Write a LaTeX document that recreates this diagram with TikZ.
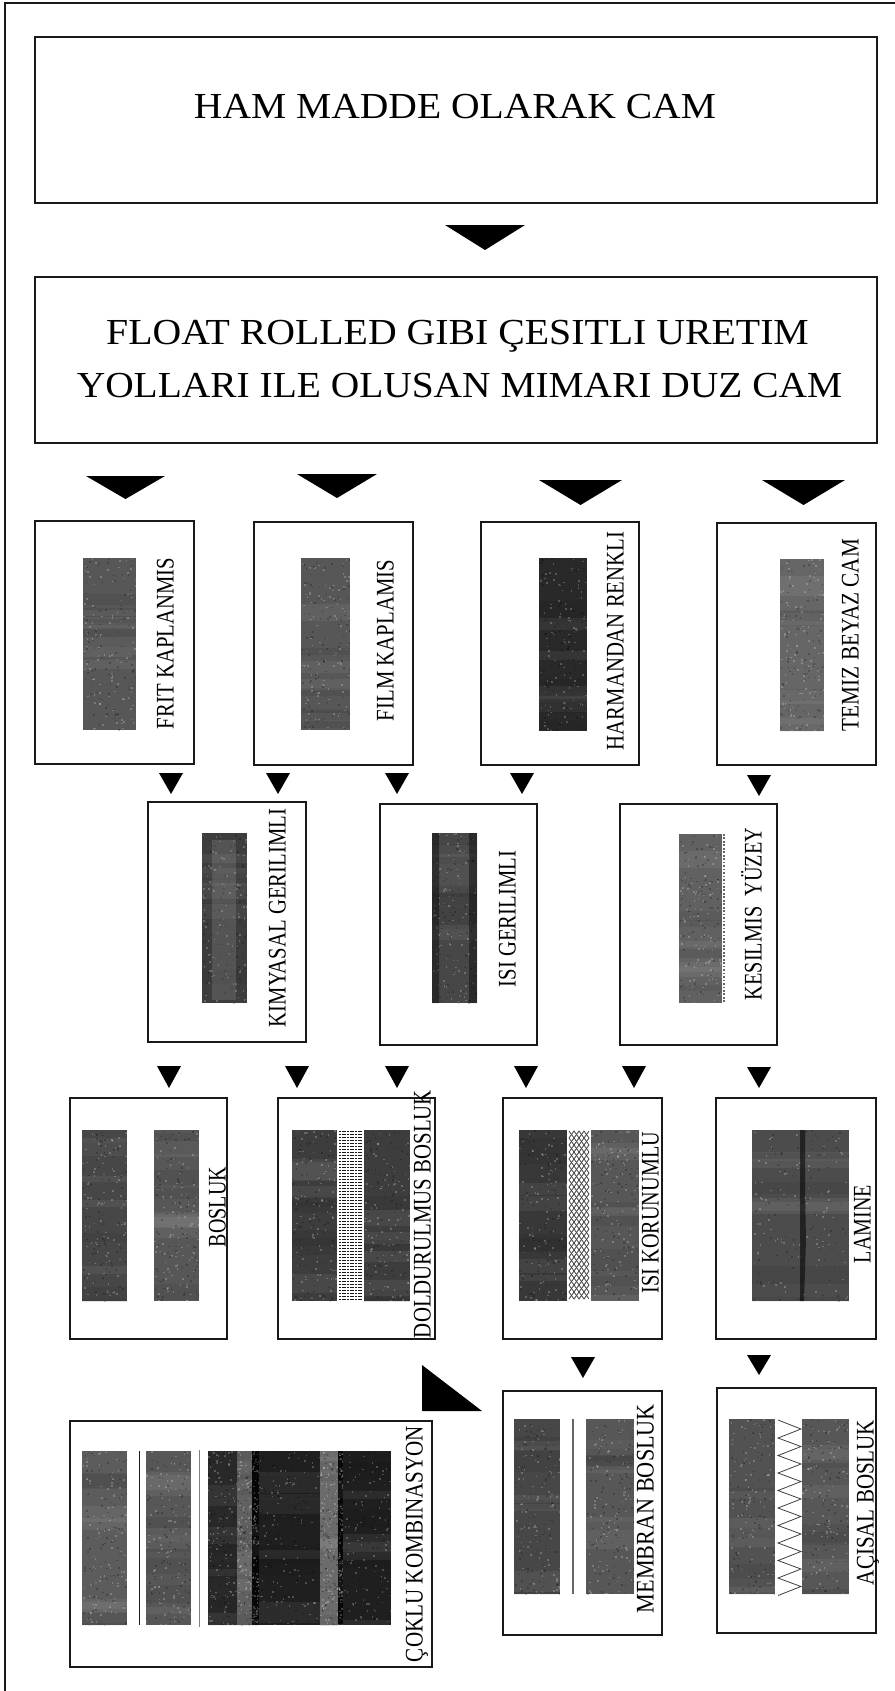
\documentclass[tikz,border=0pt]{standalone}
\usepackage{graphicx}
\usepackage{fontspec}
\setmainfont{Liberation Serif}
\tikzset{
  panel/.style={draw=inkc,line width=0.85pt,fill=white,inner sep=0pt,outer sep=0pt},
  marker/.style={fill=black,draw=none},
  vlabel/.style={rotate=90,anchor=base,inner sep=0pt,text=black},
  hlabel/.style={anchor=base,inner sep=0pt,text=black},
  thinline/.style={draw=inkc,line width=0.5pt}
}
\definecolor{inkc}{gray}{0.1}
\newcommand{\pbox}[5]{% name x1 y1 x2 y2
  \pgfmathsetmacro\pw{(#4-#2)*0.75}\pgfmathsetmacro\ph{(#5-#3)*0.75}
  \node[panel,minimum width=\pw pt,minimum height=\ph pt] (#1) at ({(#2+#4)/2},{(#3+#5)/2}) {};}
\newcommand{\swt}[5]{% x1 y1 x2 y2 gray
  \begin{scope}
    \clip (#1,#2) rectangle (#3,#4);
    \fill[black!#5!white] (#1,#2) rectangle (#3,#4);
    \foreach \k in {1,...,8}{
      \pgfmathsetmacro\rb{#2+rnd*(#4-#2)}
      \pgfmathsetmacro\rh{6+16*rnd}
      \pgfmathsetmacro\rc{int(mod(\k,2)*100)}
      \fill[black!\rc!white,opacity=0.06] (#1,\rb) rectangle (#3,\rb+\rh);
    }
    \foreach \k in {1,...,200}{
      \pgfmathsetmacro\ra{#1+rnd*(#3-#1)}\pgfmathsetmacro\rb{#2+rnd*(#4-#2)}
      \pgfmathsetmacro\rc{int(mod(\k,2)*100)}
      \fill[black!\rc!white,opacity=0.22] (\ra,\rb) rectangle (\ra+1.6,\rb+1.6);
    }
  \end{scope}}
\newcommand{\lab}[5]{% name xc y1 y2 text
  \pgfmathsetmacro\ll{(#4-#3)*0.75}
  \node[vlabel] (#1) at ({#2+8.5},{(#3+#4)/2}) {\resizebox{\ll pt}{\height}{\fontsize{19}{19}\selectfont #5}};}
\newcommand{\hlab}[6]{% name xc ybase width size text
  \node[hlabel] (#1) at (#2,#3) {\resizebox{#4pt}{\height}{\fontsize{#5}{#5}\selectfont #6}};}
\newcommand{\tri}[4]{% x1 x2 y1 y2
  \fill[marker] (#1,#3) -- (#2,#3) -- ({(#1+#2)/2},#4) -- cycle;}
\begin{document}
\begin{tikzpicture}[x=0.75pt,y=-0.75pt]
\useasboundingbox (0,0) rectangle (895,1691);
\fill[white] (0,0) rectangle (895,1691);
\pgfmathsetseed{4242}
% outer frame
\draw[inkc,line width=0.8pt] (5,1691) -- (5,3) -- (895,3);
% top boxes
\pbox{raw}{35}{37}{877}{203}
\hlab{rawt}{455}{118}{391.5}{27.5}{HAM MADDE OLARAK CAM}
\pbox{flat}{35}{277}{877}{443}
\hlab{flata}{457.5}{344}{527}{27.5}{FLOAT ROLLED GIBI ÇESITLI URETIM}
\hlab{flatb}{459.5}{397}{574}{27.5}{YOLLARI ILE OLUSAN MIMARI DUZ CAM}
\tri{445}{525}{225}{250}
\tri{86}{165}{476}{499}
\tri{297}{377}{474}{498}
\tri{539}{622}{480}{505}
\tri{762}{845}{480}{505}
% row 2
\pbox{frit}{35}{521}{194}{764}
\pbox{film}{254}{522}{413}{765}
\pbox{harm}{481}{522}{639}{765}
\pbox{temiz}{717}{523}{876}{765}
\swt{83}{558}{136}{730}{66}
\swt{301}{558}{350}{730}{66}
\swt{539}{558}{587}{731}{84}
\swt{780}{559}{824}{731}{60}
\lab{fritt}{165}{558}{729}{FRIT KAPLANMIS}
\lab{filmt}{385}{560}{721}{FILM KAPLAMIS}
\lab{harmt}{615}{532}{750}{HARMANDAN RENKLI}
\lab{temizt}{850}{539}{731}{TEMIZ BEYAZ CAM}
\tri{159}{183}{773}{794}
\tri{266}{290}{773}{794}
\tri{385}{409}{773}{794}
\tri{510}{534}{773}{794}
\tri{747}{771}{775}{796}
% row 3
\pbox{kim}{148}{802}{306}{1042}
\pbox{isi}{380}{804}{537}{1045}
\pbox{kes}{620}{804}{777}{1045}
\swt{202}{833}{247}{1003}{76}
\fill[black!30!white,opacity=.2] (212,840) rectangle (236,1000);
\swt{432}{833}{477}{1003}{72}
\fill[black,opacity=.4] (432,833) rectangle (439,1003) (469,833) rectangle (477,1003);
\swt{679}{834}{722}{1003}{62}
\draw[black!60!white,line width=1.6pt,dash pattern=on 1.3pt off 1.3pt] (724,834) -- (724,1003);
\lab{kimt}{277}{809}{1027}{KIMYASAL GERILIMLI}
\lab{isit}{507}{851}{987}{ISI GERILIMLI}
\lab{kest}{753}{828}{1000}{KESILMIS\ \ YÜZEY}
\tri{157}{181}{1066}{1088}
\tri{285}{309}{1066}{1088}
\tri{385}{409}{1066}{1088}
\tri{514}{538}{1066}{1088}
\tri{622}{646}{1066}{1088}
\tri{747}{771}{1067}{1088}
% row 4
\pbox{bos}{70}{1098}{227}{1339}
\pbox{dol}{278}{1098}{435}{1339}
\pbox{kor}{503}{1098}{662}{1339}
\pbox{lam}{716}{1098}{876}{1339}
\swt{82}{1130}{127}{1301}{72}
\swt{154}{1130}{199}{1301}{66}
\swt{292}{1130}{337}{1301}{76}
\swt{364}{1130}{410}{1301}{76}
\foreach \yy in {1131,1134,...,1300}{
  \draw[inkc,line width=0.75pt,dash pattern=on 1.5pt off 0.5pt] (339,\yy) -- (362,\yy);}
\swt{519}{1130}{567}{1301}{78}
\swt{591}{1130}{639}{1301}{66}
\foreach \yy in {1131,1138,...,1294}{
  \draw[black!75!white,line width=0.6pt] (569,\yy) -- (574,\yy+7) -- (579,\yy) -- (584,\yy+7) -- (589,\yy);
  \draw[black!75!white,line width=0.6pt] (569,\yy+7) -- (574,\yy) -- (579,\yy+7) -- (584,\yy) -- (589,\yy+7);}
\swt{752}{1130}{849}{1301}{70}
\fill[black,opacity=.55] (800,1130) -- (805,1130) -- (805,1190) -- (806,1240) -- (804,1301) -- (800,1301) -- (800,1240) -- cycle;
\lab{bost}{217}{1167}{1247}{BOSLUK}
\lab{dolt}{422}{1090}{1338}{DOLDURULMUS BOSLUK}
\lab{kort}{650}{1132}{1293}{ISI KORUNUMLU}
\lab{lamt}{862}{1185}{1263}{LAMINE}
\tri{571}{595}{1357}{1378}
\tri{747}{771}{1355}{1375}
\fill[marker] (422,1365) -- (422,1411) -- (482,1411) -- cycle;
% row 5
\pbox{cok}{70}{1421}{432}{1667}
\pbox{mem}{503}{1391}{662}{1635}
\pbox{aci}{717}{1388}{876}{1633}
\swt{82}{1451}{127}{1625}{64}
\swt{146}{1451}{191}{1625}{66}
\draw[inkc,line width=0.7pt] (139,1451) -- (139,1625);
\draw[black!50!white,line width=0.7pt] (199,1450) -- (199,1627);
\swt{208}{1451}{237}{1625}{84}
\swt{237}{1451}{252}{1625}{62}
\swt{252}{1451}{259}{1625}{97}
\swt{259}{1451}{320}{1625}{88}
\swt{320}{1451}{338}{1625}{58}
\swt{338}{1451}{343}{1625}{97}
\swt{343}{1451}{391}{1625}{88}
\swt{514}{1419}{560}{1594}{72}
\swt{586}{1419}{634}{1594}{66}
\draw[black!60!white,line width=1pt] (573,1419) -- (573,1594);
\swt{729}{1419}{775}{1594}{68}
\swt{802}{1419}{849}{1594}{66}
\draw[black!75!white,line width=0.6pt] (778,1420)
  \foreach \nn in {0,...,9}{ -- (801,{1429+\nn*17.5}) -- (778,{1438+\nn*17.5})};
\lab{cokt}{414}{1426}{1662}{ÇOKLU KOMBINASYON}
\lab{memt}{645}{1404}{1613}{MEMBRAN BOSLUK}
\lab{acit}{865}{1420}{1585}{AÇISAL BOSLUK}
\end{tikzpicture}
\end{document}
